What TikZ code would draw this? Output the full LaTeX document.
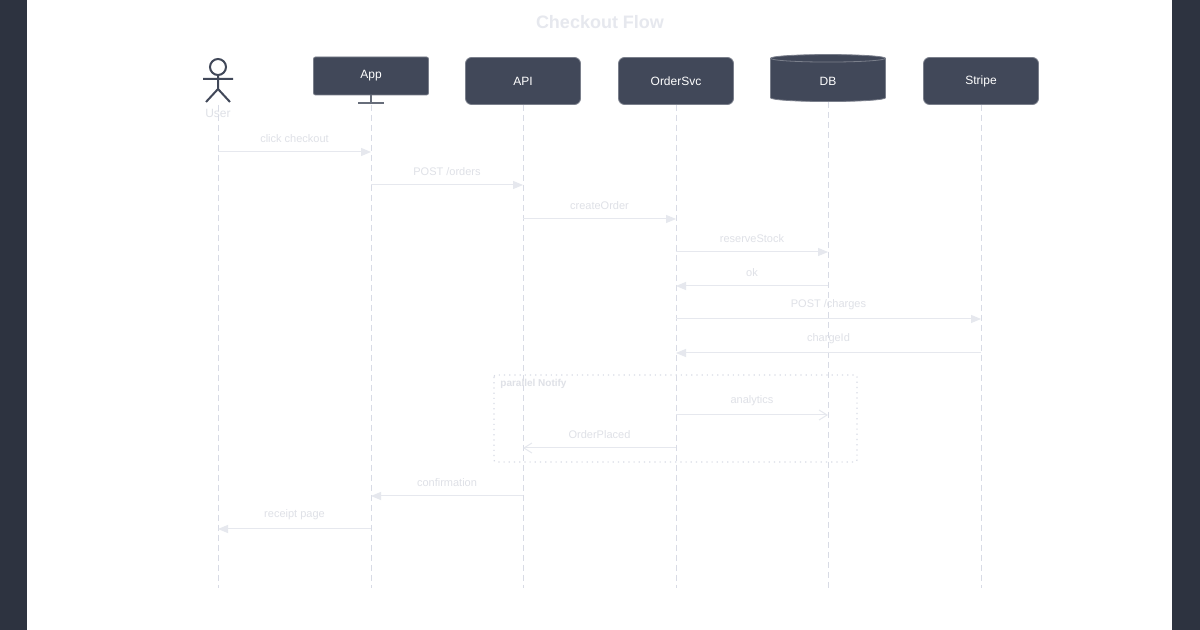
\documentclass[tikz,border=0pt]{standalone}
\usepackage{fontspec}
\setmainfont{Liberation Sans}
\usetikzlibrary{arrows.meta,shapes.geometric}

\definecolor{bgdark}{HTML}{2D3340}
\definecolor{boxfill}{HTML}{414859}
\definecolor{msgline}{HTML}{E6E8EE}
\definecolor{lifeline}{HTML}{D8DBE5}
\definecolor{msgtext}{HTML}{DFE1E7}

\tikzset{
  part/.style={draw=boxfill!70, fill=boxfill, text=white, rounded corners=3pt,
    minimum width=57.5pt, minimum height=23.5pt, font=\fontsize{6}{7}\selectfont},
  life/.style={draw=lifeline, dashed, dash pattern=on 3pt off 2pt, line width=0.4pt},
  msg/.style={draw=msgline, line width=0.5pt, -{Triangle[length=5pt,width=4pt]}},
  async/.style={draw=msgline, line width=0.5pt, -{Straight Barb[length=4pt,width=5pt]}},
  lbl/.style={above=1pt, text=msgtext, font=\fontsize{5.5}{6}\selectfont},
}

\begin{document}
\begin{tikzpicture}[x=0.5pt,y=-0.5pt]
  \fill[bgdark] (0,0) rectangle (1200,630);
  \fill[white] (27,0) rectangle (1172,630);
  \useasboundingbox (0,0) rectangle (1200,630);

  \node[text=msgline, font=\bfseries\fontsize{9}{10}\selectfont] (title) at (600,22) {Checkout Flow};

  % participants
  \node[part, rounded corners=1pt, minimum height=19pt] (app) at (371,76) {App};
  \node[part] (api) at (523,81) {API};
  \node[part] (svc) at (676,81) {OrderSvc};
  \node[part, cylinder, shape border rotate=90, rounded corners=0pt, aspect=0.25,
    minimum width=57.5pt, minimum height=23.5pt] (db) at (828,81) {DB};
  \node[part] (stripe) at (981,81) {Stripe};

  % actor
  \coordinate (head) at (218,67);
  \draw[boxfill, line width=1pt] (head) circle (4pt);
  \draw[boxfill, line width=1pt] (218,75) -- (218,89) (203,79) -- (233,79)
    (206,102) -- (218,89) -- (230,102);
  \node[text=msgtext, font=\fontsize{6}{7}\selectfont] (user) at (218,113) {User};
  \draw[boxfill!80, line width=0.8pt] (app.south) -- (371,103) (358,103) -- (384,103);

  % lifelines
  \coordinate (bottom) at (0,588);
  \draw[life] (218,105) -- (218,588);
  \draw[life] (371,105) -- (371,588);
  \foreach \p in {api,svc,db,stripe}
    \draw[life] (\p.south) -- (\p.south |- bottom);

  % message rows
  \foreach \i/\y in {1/152,2/185,3/219,4/252,5/286,6/319,7/353,8/415,9/448,10/496,11/529}
    \coordinate (m\i) at (0,\y);

  \draw[msg] (user |- m1) -- node[lbl]{click checkout} (app |- m1);
  \draw[msg] (app |- m2) -- node[lbl]{POST /orders} (api |- m2);
  \draw[msg] (api |- m3) -- node[lbl]{createOrder} (svc |- m3);
  \draw[msg] (svc |- m4) -- node[lbl]{reserveStock} (db |- m4);
  \draw[msg] (db |- m5) -- node[lbl]{ok} (svc |- m5);
  \draw[msg] (svc |- m6) -- node[lbl]{POST /charges} (stripe |- m6);
  \draw[msg] (stripe |- m7) -- node[lbl]{chargeId} (svc |- m7);

  % parallel block
  \draw[lifeline, dotted, line width=0.6pt, rounded corners=1pt] (494,375) rectangle (857,462);
  \node[anchor=north west, inner sep=0pt, text=msgtext, font=\bfseries\fontsize{5}{6}\selectfont] (par) at (500,379) {parallel Notify};
  \draw[async] (svc |- m8) -- node[lbl]{analytics} (db |- m8);
  \draw[async] (svc |- m9) -- node[lbl]{OrderPlaced} (api |- m9);

  \draw[msg] (api |- m10) -- node[lbl]{confirmation} (app |- m10);
  \draw[msg] (app |- m11) -- node[lbl]{receipt page} (user |- m11);
\end{tikzpicture}
\end{document}
